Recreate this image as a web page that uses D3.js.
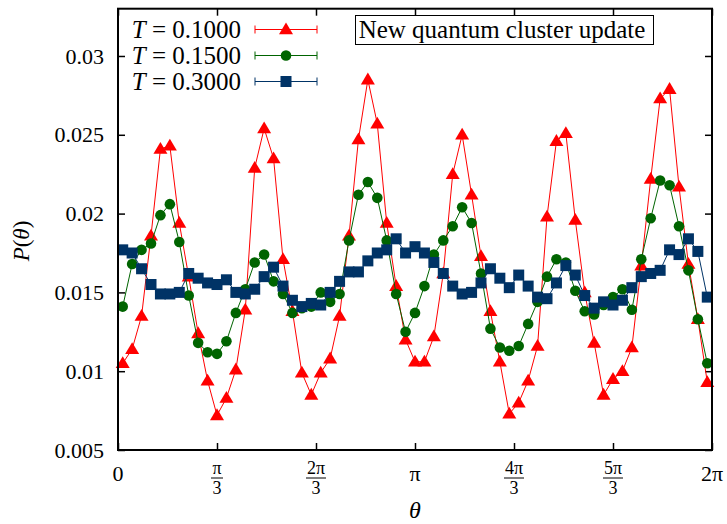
<!DOCTYPE html>
<html>
<head>
<meta charset="utf-8">
<script src="https://cdn.jsdelivr.net/npm/d3@7"></script>
<style>
  body { margin: 0; background: #fff; }
  text { font-family: "Liberation Serif", "DejaVu Serif", serif; fill: #000; }
</style>
</head>
<body>
<div id="viz"></div>
<script>
var width = 727, height = 524;

// histogram of theta, 63 bins over [0, 2pi]
var nBins = 63;
var temps = ["0.1000", "0.1500", "0.3000"];
var color = ["#ff0000", "#006400", "#003366"];

var p010 = [0.0105, 0.0114, 0.0135, 0.0186, 0.0241, 0.0243, 0.0194, 0.0160, 0.0124, 0.0094,
            0.0072, 0.0083, 0.0101, 0.0139, 0.0229, 0.0254, 0.0235, 0.0171, 0.0138, 0.0099,
            0.0085, 0.0099, 0.0108, 0.0135, 0.0186, 0.0247, 0.0285, 0.0257, 0.0194, 0.0154,
            0.0120, 0.0106, 0.0106, 0.0122, 0.0162, 0.0225, 0.0250, 0.0212, 0.0173, 0.0138,
            0.0106, 0.0073, 0.0080, 0.0094, 0.0116, 0.0198, 0.0246, 0.0251, 0.0196, 0.0150,
            0.0118, 0.0085, 0.0095, 0.0100, 0.0115, 0.0167, 0.0222, 0.0273, 0.0279, 0.0217,
            0.0168, 0.0133, 0.0093];
var p015 = [0.0141, 0.0168, 0.0177, 0.0181, 0.0199, 0.0206, 0.0182, 0.0148, 0.0118, 0.0112,
            0.0111, 0.0119, 0.0137, 0.0152, 0.0169, 0.0174, 0.0157, 0.0149, 0.0137, 0.0140,
            0.0141, 0.0150, 0.0144, 0.0149, 0.0183, 0.0212, 0.0220, 0.0210, 0.0183, 0.0149,
            0.0125, 0.0137, 0.0154, 0.0174, 0.0183, 0.0192, 0.0204, 0.0194, 0.0162, 0.0127,
            0.0115, 0.0113, 0.0116, 0.0130, 0.0144, 0.0160, 0.0171, 0.0169, 0.0151, 0.0138,
            0.0136, 0.0142, 0.0147, 0.0152, 0.0139, 0.0171, 0.0197, 0.0221, 0.0218, 0.0192,
            0.0164, 0.0133, 0.0105];
var p030 = [0.0177, 0.0175, 0.0165, 0.0155, 0.0149, 0.0149, 0.0150, 0.0162, 0.0159, 0.0156,
            0.0155, 0.0158, 0.0150, 0.0149, 0.0152, 0.0160, 0.0166, 0.0154, 0.0145, 0.0141,
            0.0143, 0.0142, 0.0150, 0.0157, 0.0163, 0.0163, 0.0170, 0.0175, 0.0177, 0.0184,
            0.0175, 0.0179, 0.0175, 0.0169, 0.0162, 0.0154, 0.0149, 0.0150, 0.0156, 0.0165,
            0.0159, 0.0153, 0.0161, 0.0154, 0.0147, 0.0146, 0.0156, 0.0167, 0.0161, 0.0148,
            0.0140, 0.0144, 0.0142, 0.0145, 0.0153, 0.0160, 0.0162, 0.0164, 0.0177, 0.0174,
            0.0184, 0.0176, 0.0147];

var yTicks = [0.005, 0.01, 0.015, 0.02, 0.025, 0.03];
var yTickLabels = ["0.005", "0.01", "0.015", "0.02", "0.025", "0.03"];
var xTickNum = ["0", "π", "2π", "π", "4π", "5π", "2π"];
var xTickDen = ["", "3", "3", "", "3", "3", ""];

var svg = d3.select("#viz").append("svg").attr("width", width).attr("height", height);

var x = d3.scaleLinear().domain([0, 2 * Math.PI]).range([118, 712]);
var y = d3.scaleLinear().domain([0.005, 0.033]).range([450, 8.7]);

var xTicks = xTickNum.map(function(d, k) { return k * Math.PI / 3; });

function binTheta(i) { return (i + 0.5) * 2 * Math.PI / nBins; }

// axes, ticks inward on all four sides
svg.append("g")
    .attr("class", "axis")
    .attr("transform", "translate(118,0)")
    .call(d3.axisLeft(y).tickValues(yTicks).tickSize(-7).tickPadding(14)
      .tickFormat(function(d, i) { return yTickLabels[i]; }));

svg.append("g")
    .attr("transform", "translate(712,0)")
    .call(d3.axisRight(y).tickValues(yTicks).tickSize(-7).tickFormat(""));

svg.append("g")
    .attr("transform", "translate(0,450)")
    .call(d3.axisBottom(x).tickValues(xTicks).tickSize(-7).tickFormat(""));

svg.append("g")
    .attr("transform", "translate(0,8.7)")
    .call(d3.axisTop(x).tickValues(xTicks).tickSize(-7).tickFormat(""));

svg.selectAll(".domain").remove();
svg.selectAll(".tick line").attr("stroke", "#000").attr("stroke-width", 1.5);
svg.selectAll(".axis .tick text")
    .style("font-family", "'Liberation Serif', serif")
    .style("font-size", "22px")
    .attr("fill", "#000");

// x tick labels (fractions of pi)
var xl = svg.append("g").selectAll("g")
    .data(xTicks)
  .enter().append("g")
    .attr("transform", function(d) { return "translate(" + x(d) + ",0)"; });

xl.each(function(d, k) {
  var g = d3.select(this);
  if (xTickDen[k] == "") {
    g.append("text").attr("y", 481).attr("text-anchor", "middle")
        .style("font-size", "22px").text(xTickNum[k]);
  } else {
    g.append("text").attr("y", 474).attr("text-anchor", "middle")
        .style("font-size", "18px").text(xTickNum[k]);
    var w = xTickNum[k].length > 1 ? 20 : 12;
    g.append("line").attr("x1", -w / 2).attr("x2", w / 2)
        .attr("y1", 478).attr("y2", 478).attr("stroke", "#000").attr("stroke-width", 1);
    g.append("text").attr("y", 494).attr("text-anchor", "middle")
        .style("font-size", "18px").text(xTickDen[k]);
  }
});

// axis titles
svg.append("text")
    .attr("x", 415).attr("y", 518)
    .attr("text-anchor", "middle")
    .style("font-size", "24px").style("font-style", "italic")
    .text("θ");

svg.append("text")
    .attr("transform", "translate(29,241) rotate(-90)")
    .attr("text-anchor", "middle")
    .style("font-size", "23px")
    .html("<tspan font-style='italic'>P</tspan>(<tspan font-style='italic'>θ</tspan>)");

// series
var series = [p010, p015, p030];
var shapes = ["triangle", "circle", "square"];

var line = d3.line()
    .x(function(d, i) { return x(binTheta(i)); })
    .y(function(d) { return y(d); });

function drawMarker(g, shape, col) {
  if (shape == "triangle") {
    g.append("path").attr("d", "M0,-7 L7,4.8 L-7,4.8 Z").attr("fill", col);
  } else if (shape == "circle") {
    g.append("circle").attr("r", 5.3).attr("fill", col);
  } else {
    g.append("rect").attr("x", -5.5).attr("y", -5.5).attr("width", 11).attr("height", 11).attr("fill", col);
  }
}

series.forEach(function(vals, s) {
  var g = svg.append("g");
  g.append("path")
      .datum(vals)
      .attr("d", line)
      .attr("fill", "none")
      .attr("stroke", color[s])
      .attr("stroke-width", 1);
  g.selectAll("g.pt")
      .data(vals)
    .enter().append("g")
      .attr("class", "pt")
      .attr("transform", function(d, i) { return "translate(" + x(binTheta(i)) + "," + y(d) + ")"; })
      .each(function() { drawMarker(d3.select(this), shapes[s], color[s]); });
});

// legend
var legendY = [29.5, 55.5, 81.5];
temps.forEach(function(t, s) {
  var ly = legendY[s];
  svg.append("text")
      .attr("x", 241).attr("y", ly + 8)
      .attr("text-anchor", "end")
      .style("font-size", "25px")
      .html("<tspan font-style='italic'>T</tspan> = " + t);
  var g = svg.append("g");
  g.append("line").attr("x1", 255).attr("x2", 317).attr("y1", ly).attr("y2", ly)
      .attr("stroke", color[s]).attr("stroke-width", 1);
  g.append("line").attr("x1", 255).attr("x2", 255).attr("y1", ly - 4).attr("y2", ly + 4)
      .attr("stroke", color[s]).attr("stroke-width", 1);
  g.append("line").attr("x1", 317).attr("x2", 317).attr("y1", ly - 4).attr("y2", ly + 4)
      .attr("stroke", color[s]).attr("stroke-width", 1);
  var m = g.append("g").attr("transform", "translate(286," + ly + ")");
  drawMarker(m, shapes[s], color[s]);
});

// title box
svg.append("rect")
    .attr("x", 355.5).attr("y", 15.5).attr("width", 298).attr("height", 29)
    .attr("fill", "#fff").attr("stroke", "#000").attr("stroke-width", 1);
svg.append("text")
    .attr("x", 502).attr("y", 38)
    .attr("text-anchor", "middle")
    .style("font-size", "25px")
    .text("New quantum cluster update");

// frame
svg.append("rect")
    .attr("x", 118).attr("y", 8.7).attr("width", 594).attr("height", 441.3)
    .attr("fill", "none").attr("stroke", "#000").attr("stroke-width", 2);
</script>
</body>
</html>
